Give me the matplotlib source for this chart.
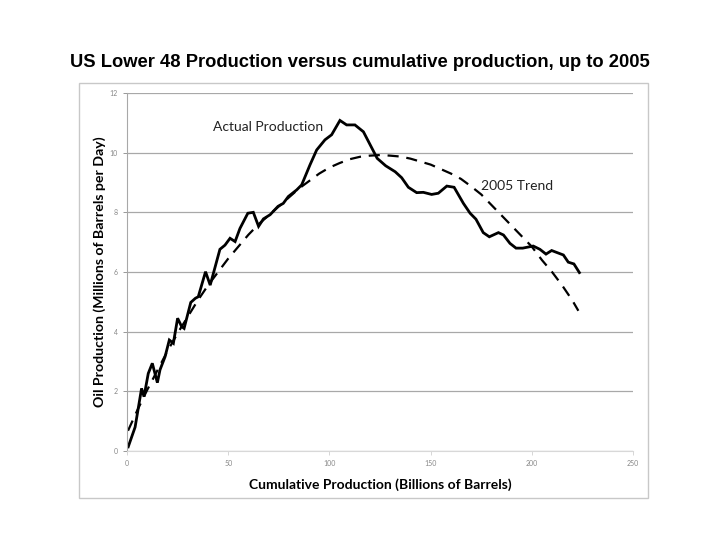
import matplotlib
matplotlib.use("Agg")
import matplotlib.pyplot as plt
from matplotlib.patches import Rectangle

plt.rcParams["font.family"] = ["Lato", "DejaVu Sans"]

# Actual production
actual_q = [0.6, 4.0, 7.2, 8.4, 10.5, 12.5, 15.0, 16.3, 18.8, 20.9, 22.9, 25.0,
            27.0, 28.2, 31.5, 33.8, 35.2, 38.8, 41.1, 45.9, 48.4, 50.9, 53.4,
            55.8, 59.7, 62.4, 65.0, 67.4, 70.7, 74.6, 77.2, 79.7, 83.8, 86.3,
            90.4, 93.7, 97.8, 101.1, 105.2, 108.5, 112.6, 116.8, 123.6, 127.8,
            132.5, 135.7, 139.0, 143.1, 146.4, 150.5, 153.8, 158.0, 161.6,
            166.2, 169.5, 172.4, 176.0, 179.0, 183.5, 186.0, 189.2, 192.2,
            195.5, 200.7, 204.0, 207.0, 209.8, 215.6, 218.0, 220.8, 223.5]
actual_p = [0.14, 0.80, 2.10, 1.82, 2.60, 2.94, 2.29, 2.72, 3.16, 3.72, 3.61, 4.45,
            4.17, 4.11, 4.98, 5.12, 5.17, 6.01, 5.56, 6.76, 6.90, 7.13, 7.02,
            7.46, 7.97, 8.00, 7.53, 7.78, 7.92, 8.20, 8.30, 8.53, 8.75, 8.92,
            9.59, 10.09, 10.43, 10.60, 11.08, 10.93, 10.93, 10.70, 9.81, 9.56,
            9.36, 9.16, 8.84, 8.66, 8.67, 8.60, 8.64, 8.88, 8.84,
            8.30, 7.97, 7.77, 7.32, 7.18, 7.32, 7.24, 6.96, 6.80,
            6.80, 6.87, 6.76, 6.60, 6.72, 6.57, 6.33, 6.27, 5.98]

# 2005 trend (dashed)
trend_q = [0.5, 5, 10, 15, 20, 25, 30, 35, 40, 45, 50, 55, 60, 65, 70, 75, 80,
           85, 90, 95, 100, 105, 110, 115, 120, 125, 130, 135, 140, 145, 150,
           155, 160, 165, 170, 175, 180, 185, 190, 195, 200, 205, 210, 215,
           220, 223]
trend_p = [0.68, 1.35, 2.05, 2.70, 3.35, 3.95, 4.50, 5.05, 5.55, 6.00, 6.45,
           6.85, 7.25, 7.60, 7.90, 8.20, 8.50, 8.80, 9.05, 9.30, 9.50, 9.65,
           9.78, 9.86, 9.90, 9.92, 9.90, 9.87, 9.80, 9.70, 9.60, 9.45, 9.30,
           9.12, 8.87, 8.60, 8.25, 7.90, 7.55, 7.20, 6.85, 6.40, 6.00, 5.55,
           5.05, 4.70]

x_ticks = [0, 50, 100, 150, 200, 250]
y_ticks = [0, 2, 4, 6, 8, 10, 12]

fig = plt.figure(figsize=(7.2, 5.4), dpi=100, facecolor="white")

# chart frame
fig.patches.append(Rectangle((0.1097, 0.0778), 0.790, 0.7685,
                             transform=fig.transFigure, fill=False,
                             edgecolor="#c8c8c8", lw=1.0))

fig.text(0.5, 0.885,
         "US Lower 48 Production versus cumulative production, up to 2005",
         ha="center", va="center", fontsize=13.2, fontweight="bold",
         family=["Liberation Sans", "DejaVu Sans"])

ax = fig.add_axes([0.1764, 0.1648, 0.7028, 0.663])
ax.set_xlim(0, 250)
ax.set_ylim(0, 12)
ax.set_xticks(x_ticks)
ax.set_yticks(y_ticks)
ax.yaxis.grid(True, color="#a8a8a8", lw=0.9)
ax.set_axisbelow(True)
for s in ["top", "right"]:
    ax.spines[s].set_visible(False)
ax.spines["left"].set_color("#a8a8a8")
ax.spines["bottom"].set_color("#d8d8d8")
ax.tick_params(axis="both", labelsize=5, colors="#888888", length=3, width=0.6)
ax.tick_params(axis="x", color="#d0d0d0")

ax.plot(trend_q, trend_p, color="black", lw=1.6, ls=(0, (5, 3.5)))
ax.plot(actual_q, actual_p, color="black", lw=2.0, solid_joinstyle="miter")

ax.text(69.7, 10.86, "Actual Production", ha="center", va="center",
        fontsize=10, color="#222222")
ax.text(192.5, 8.88, "2005 Trend", ha="center", va="center",
        fontsize=10, color="#222222")

ax.set_xlabel("Cumulative Production (Billions of Barrels)", fontsize=10,
              fontweight="bold", labelpad=8)
ax.set_ylabel("Oil Production (Millions of Barrels per Day)", fontsize=10.2,
              fontweight="bold", labelpad=3)

fig.savefig("out.png", dpi=100, facecolor="white")
